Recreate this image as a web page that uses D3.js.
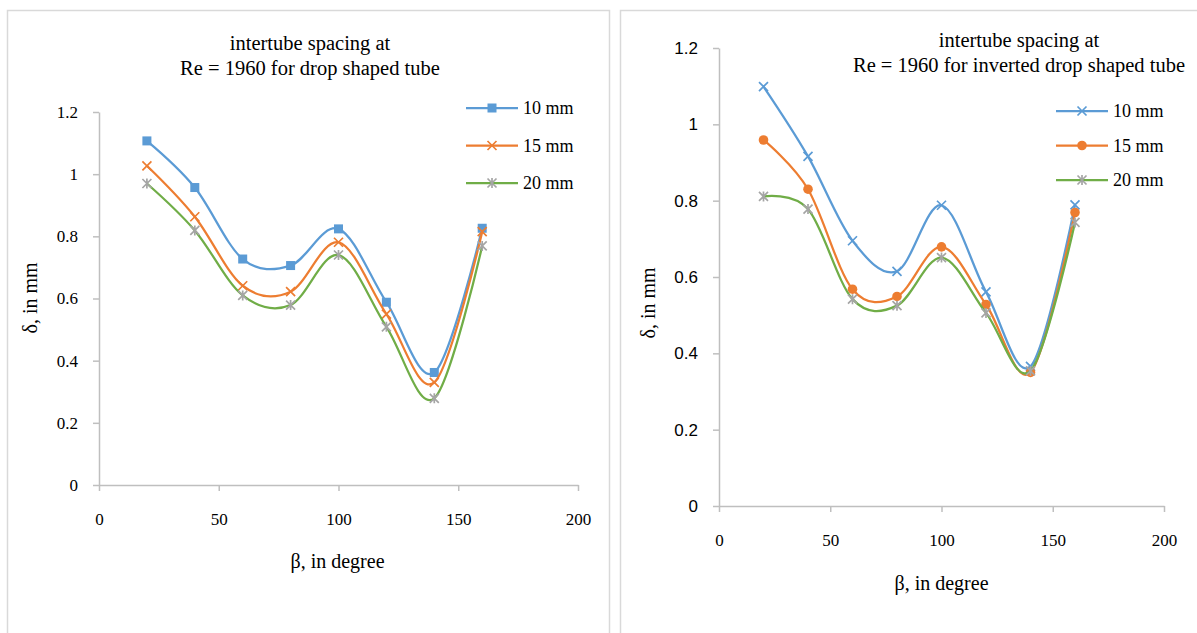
<!DOCTYPE html>
<html lang="en">
<head>
    <meta charset="UTF-8">
    <title>intertube spacing at Re = 1960</title>
    <style>
        body {
            margin: 0;
            background: #ffffff;
        }
        svg text {
            font-family: "Liberation Serif", "Times New Roman", serif;
            fill: #000000;
        }
        .axis path, .axis line {
            stroke: #bfbfbf;
            stroke-width: 1.5px;
        }
        .frame {
            fill: none;
            stroke: #d9d9d9;
            stroke-width: 1.5px;
        }
        .series {
            fill: none;
            stroke-width: 2.25px;
        }
    </style>
</head>
<body>
    <svg id="chart" width="1197" height="633"></svg>
    <script src="https://d3js.org/d3.v7.min.js"></script>
    <script>
        // angle beta, degree
        const beta = [20, 40, 60, 80, 100, 120, 140, 160];
        const seriesNames = ["10 mm", "15 mm", "20 mm"];

        // drop shaped tube
        const drop10 = [1.107, 0.957, 0.727, 0.706, 0.824, 0.588, 0.362, 0.826];
        const drop15 = [1.027, 0.863, 0.641, 0.622, 0.781, 0.550, 0.330, 0.815];
        const drop20 = [0.970, 0.819, 0.610, 0.579, 0.740, 0.509, 0.279, 0.769];

        // inverted drop shaped tube
        const inv10 = [1.099, 0.916, 0.695, 0.615, 0.788, 0.561, 0.366, 0.789];
        const inv15 = [0.959, 0.830, 0.568, 0.549, 0.679, 0.528, 0.350, 0.769];
        const inv20 = [0.811, 0.778, 0.542, 0.525, 0.651, 0.506, 0.354, 0.743];

        const xTicks = [0, 50, 100, 150, 200];
        const yTicks = [0, 0.2, 0.4, 0.6, 0.8, 1, 1.2];

        const colors = ["#5b9bd5", "#ed7d31", "#70ad47"];
        const markerColors = ["#5b9bd5", "#ed7d31", "#a5a5a5"];

        const svg = d3.select("#chart");

        // excel style markers
        function drawMarker(g, type, color) {
            if (type === "square") {
                g.append("rect").attr("x", -4.5).attr("y", -4.5).attr("width", 9).attr("height", 9)
                    .attr("fill", color);
            } else if (type === "circle") {
                g.append("circle").attr("r", 4.8).attr("fill", color);
            } else if (type === "x") {
                g.append("path").attr("d", "M-4.5,-4.5L4.5,4.5M-4.5,4.5L4.5,-4.5")
                    .attr("stroke", color).attr("stroke-width", 1.7).attr("fill", "none");
            } else if (type === "star") {
                g.append("path").attr("d", "M-4.5,-4.5L4.5,4.5M-4.5,4.5L4.5,-4.5M0,-5L0,5")
                    .attr("stroke", color).attr("stroke-width", 1.7).attr("fill", "none");
            }
        }

        function drawChart(cfg) {
            svg.append("rect").attr("class", "frame")
                .attr("x", cfg.frame[0]).attr("y", cfg.frame[1])
                .attr("width", cfg.frame[2]).attr("height", 700);

            const x = d3.scaleLinear().domain([0, 200]).range([cfg.x0, cfg.x1]);
            const y = d3.scaleLinear().domain([0, 1.2]).range([cfg.y0, cfg.y1]);

            const xAxis = svg.append("g").attr("class", "axis")
                .attr("transform", `translate(0,${cfg.y0})`)
                .call(d3.axisBottom(x).tickValues(xTicks).tickSize(6).tickSizeOuter(0).tickPadding(22));
            xAxis.selectAll("text").style("font-size", "17px")
                .style("font-family", "'Liberation Serif', serif");

            const yAxis = svg.append("g").attr("class", "axis")
                .attr("transform", `translate(${cfg.x0},0)`)
                .call(d3.axisLeft(y).tickValues(yTicks).tickSize(6).tickSizeOuter(0).tickPadding(15)
                    .tickFormat(d => String(+d.toFixed(1))));
            yAxis.selectAll("text").style("font-size", "17px")
                .style("font-family", cfg.yFont);

            const line = d3.line()
                .x((d, i) => x(beta[i]))
                .y(d => y(d))
                .curve(d3.curveCardinal.tension(0));

            cfg.series.forEach((vals, s) => {
                svg.append("path").attr("class", "series")
                    .attr("stroke", colors[s])
                    .attr("d", line(vals));
                vals.forEach((v, i) => {
                    const g = svg.append("g").attr("transform", `translate(${x(beta[i])},${y(v)})`);
                    drawMarker(g, cfg.markers[s], markerColors[s]);
                });
            });

            // legend
            seriesNames.forEach((name, s) => {
                const ly = cfg.legend[1] + s * cfg.legend[2];
                svg.append("line")
                    .attr("x1", cfg.legend[0]).attr("x2", cfg.legend[0] + 52)
                    .attr("y1", ly).attr("y2", ly)
                    .attr("stroke", colors[s]).attr("stroke-width", 2.25);
                const g = svg.append("g").attr("transform", `translate(${cfg.legend[0] + 26},${ly})`);
                drawMarker(g, cfg.markers[s], markerColors[s]);
                svg.append("text").attr("x", cfg.legend[0] + 57).attr("y", ly)
                    .attr("dy", "0.35em").style("font-size", "18px").text(name);
            });

            // title
            cfg.title.forEach((t, i) => {
                svg.append("text").attr("x", cfg.titleX).attr("y", cfg.titleY + i * 25)
                    .attr("text-anchor", "middle").attr("dy", "0.35em")
                    .style("font-size", "20.5px").text(t);
            });

            svg.append("text").attr("x", (cfg.x0 + cfg.x1) / 2 + cfg.xTitleDx).attr("y", cfg.xTitleY)
                .attr("text-anchor", "middle").attr("dy", "0.35em")
                .style("font-size", "20px").text("β, in degree");

            svg.append("text")
                .attr("transform", `translate(${cfg.yTitleX},${cfg.yTitleY}) rotate(-90)`)
                .attr("text-anchor", "middle").attr("dy", "0.35em")
                .style("font-size", "20px").text("δ, in mm");
        }

        drawChart({
            frame: [7.5, 10.5, 602],
            x0: 99, x1: 578, y0: 485, y1: 112,
            series: [drop10, drop15, drop20],
            markers: ["square", "x", "star"],
            yFont: "'Liberation Serif', serif",
            legend: [466, 108, 37.5],
            title: ["intertube spacing at", "Re = 1960 for drop shaped tube"],
            titleX: 310, titleY: 43,
            xTitleDx: -1, xTitleY: 561,
            yTitleX: 30, yTitleY: 298
        });

        drawChart({
            frame: [620.5, 10.5, 600],
            x0: 719, x1: 1164, y0: 506, y1: 48,
            series: [inv10, inv15, inv20],
            markers: ["x", "circle", "star"],
            yFont: "'Liberation Sans', sans-serif",
            legend: [1056, 111, 34.5],
            title: ["intertube spacing at", "Re = 1960 for inverted drop shaped tube"],
            titleX: 1019, titleY: 40,
            xTitleDx: 0, xTitleY: 583,
            yTitleX: 648, yTitleY: 303
        });
    </script>
</body>
</html>
